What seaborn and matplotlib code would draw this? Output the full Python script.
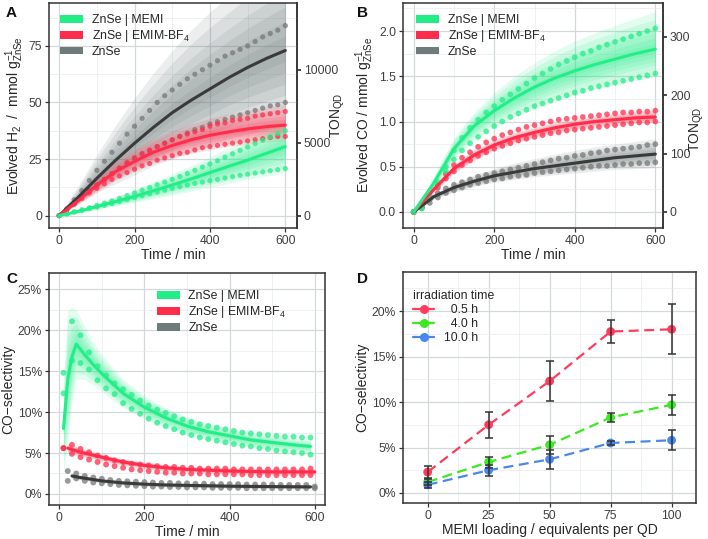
import numpy as np
import pandas as pd
import matplotlib
matplotlib.use("Agg")
import matplotlib.pyplot as plt
import seaborn as sns
from matplotlib.patches import Patch
from matplotlib.lines import Line2D
from matplotlib.ticker import MultipleLocator, FixedLocator, PercentFormatter, FormatStrFormatter

# ---------------- data ----------------
groups = ["ZnSe | MEMI", "ZnSe | EMIM-BF$_4$", "ZnSe"]

# dots every 20 min (panels A, B)
t_dots = list(range(0, 601, 20))
# fitted curve + band every 50 min
t_fit = list(range(0, 601, 50))

# A: evolved H2 / mmol g-1
a_mem_hi = [0, 0.8, 1.7, 2.6, 3.5, 4.5, 5.5, 6.5, 7.6, 8.8, 10, 11.2, 12.4, 13.6, 14.8, 16, 17.3, 18.6, 20, 21.4,
            22.8, 24.2, 25.8, 27.3, 28.8, 30.3, 31.8, 33.3, 34.8, 36.3, 37.5]
a_mem_lo = [0, 0.7, 1.5, 2.2, 3, 3.7, 4.5, 5.3, 6.2, 7, 8, 8.8, 9.6, 10.4, 11.2, 12, 12.8, 13.5, 14.2, 14.8,
            15.4, 16, 16.6, 17.2, 17.8, 18.3, 18.8, 19.3, 19.8, 20.3, 20.8]
a_emim_hi = [0, 2.5, 5.5, 8.5, 11, 13.5, 16, 18.5, 21, 23.5, 25.5, 27.5, 29, 30.5, 32, 33.5, 35, 36, 37, 38,
             39.5, 40.5, 41, 42, 42.5, 43, 44, 44.5, 45, 45.5, 46]
a_emim_lo = [0, 2.5, 5, 7.5, 10, 12, 14, 16, 17.5, 19, 20.5, 22, 23, 24.5, 25.5, 26.5, 27.5, 28, 29, 30,
             30.5, 31, 31.5, 32, 32.5, 33, 33.5, 34, 34.5, 35, 35]
a_znse_hi = [0, 3, 7, 11, 15.5, 20, 24, 28, 32, 36, 39.5, 43, 46.5, 50, 53, 55.5, 58, 60.5, 62.5, 64.5,
             66.5, 68.5, 70.5, 72, 73.5, 75, 77, 79, 80.5, 82, 84]
a_znse_lo = [0, 2.5, 5.5, 8.5, 11, 13.5, 16, 18.5, 21, 23, 25.5, 27, 28.5, 30.5, 32, 33.5, 35, 36.5, 38, 39,
             40.5, 41.5, 42.5, 43.5, 44.5, 45.5, 46.5, 47.5, 48.5, 49, 50]
a_mem_fit = [0, 1.8, 4, 6.2, 8.5, 11, 13.5, 16.2, 19, 21.8, 24.5, 27.5, 30.5]
a_mem_up = [0, 2.5, 5.5, 8.5, 11.5, 15, 18.5, 22, 26, 30, 34, 38, 42]
a_mem_dn = [0, 1.2, 2.8, 4.2, 5.8, 7.5, 9, 10.8, 12.5, 14.2, 16, 17.5, 19]
a_emim_fit = [0, 6.5, 13.5, 19.5, 24, 28, 31, 33.5, 35.5, 37, 38.3, 39.3, 40]
a_emim_up = [0, 8.5, 17, 24, 29.5, 34, 37.5, 40.5, 43, 45, 46.5, 48, 49]
a_emim_dn = [0, 5, 10.5, 15.5, 19.5, 23, 25.5, 27.5, 29, 30.5, 31.5, 32.5, 33]
a_znse_fit = [0, 8, 16.5, 24.5, 32, 39, 45.5, 51, 56, 61, 65.5, 69.5, 73]
a_znse_up = [0, 13, 27, 40, 52, 63, 73, 82, 90, 97, 104, 110, 116]
a_znse_dn = [0, 5, 10, 14, 18, 22, 25, 28, 31, 34, 36, 38, 40]

# B: evolved CO / mmol g-1
b_mem_hi = [0, 0.05, 0.18, 0.33, 0.5, 0.68, 0.82, 0.93, 1.02, 1.1, 1.17, 1.24, 1.3, 1.36, 1.42, 1.48, 1.53, 1.58,
            1.63, 1.67, 1.71, 1.75, 1.78, 1.82, 1.85, 1.88, 1.91, 1.94, 1.97, 2.0, 2.03]
b_mem_lo = [0, 0.04, 0.15, 0.3, 0.45, 0.58, 0.68, 0.76, 0.83, 0.89, 0.95, 1.0, 1.05, 1.09, 1.13, 1.17, 1.2, 1.23,
            1.26, 1.29, 1.32, 1.34, 1.37, 1.39, 1.41, 1.43, 1.45, 1.47, 1.49, 1.51, 1.53]
b_emim_hi = [0, 0.06, 0.17, 0.3, 0.42, 0.52, 0.6, 0.66, 0.72, 0.77, 0.81, 0.85, 0.88, 0.91, 0.94, 0.96, 0.98, 1.0,
             1.02, 1.03, 1.04, 1.05, 1.06, 1.07, 1.08, 1.09, 1.1, 1.1, 1.11, 1.11, 1.12]
b_emim_lo = [0, 0.05, 0.15, 0.27, 0.37, 0.45, 0.52, 0.57, 0.62, 0.66, 0.7, 0.73, 0.76, 0.79, 0.81, 0.83, 0.85, 0.87,
             0.88, 0.9, 0.91, 0.92, 0.93, 0.94, 0.95, 0.96, 0.97, 0.98, 0.99, 0.99, 1.0]
b_znse_hi = [0, 0.06, 0.14, 0.21, 0.26, 0.3, 0.33, 0.36, 0.39, 0.41, 0.43, 0.45, 0.47, 0.49, 0.51, 0.53, 0.55, 0.57,
             0.59, 0.6, 0.62, 0.63, 0.65, 0.66, 0.68, 0.69, 0.7, 0.71, 0.72, 0.74, 0.75]
b_znse_lo = [0, 0.04, 0.1, 0.16, 0.21, 0.24, 0.27, 0.3, 0.32, 0.34, 0.36, 0.37, 0.39, 0.4, 0.41, 0.43, 0.44, 0.45,
             0.46, 0.47, 0.48, 0.49, 0.5, 0.51, 0.51, 0.52, 0.53, 0.53, 0.54, 0.54, 0.55]
b_mem_fit = [0, 0.32, 0.7, 0.95, 1.12, 1.26, 1.38, 1.48, 1.56, 1.63, 1.69, 1.75, 1.8]
b_mem_up = [0, 0.4, 0.82, 1.1, 1.32, 1.5, 1.65, 1.78, 1.89, 1.98, 2.06, 2.14, 2.21]
b_mem_dn = [0, 0.24, 0.58, 0.8, 0.94, 1.05, 1.14, 1.22, 1.29, 1.35, 1.4, 1.45, 1.5]
b_emim_fit = [0, 0.25, 0.48, 0.63, 0.74, 0.82, 0.88, 0.93, 0.97, 1.0, 1.02, 1.04, 1.05]
b_emim_up = [0, 0.29, 0.53, 0.69, 0.8, 0.88, 0.94, 0.99, 1.03, 1.06, 1.09, 1.11, 1.13]
b_emim_dn = [0, 0.21, 0.43, 0.57, 0.68, 0.76, 0.82, 0.87, 0.91, 0.94, 0.96, 0.98, 0.99]
b_znse_fit = [0, 0.17, 0.27, 0.34, 0.4, 0.44, 0.48, 0.51, 0.54, 0.57, 0.6, 0.62, 0.64]
b_znse_up = [0, 0.2, 0.32, 0.41, 0.48, 0.54, 0.59, 0.64, 0.68, 0.72, 0.75, 0.78, 0.81]
b_znse_dn = [0, 0.14, 0.22, 0.28, 0.33, 0.36, 0.39, 0.41, 0.43, 0.45, 0.47, 0.48, 0.49]

# C: CO-selectivity in %
c_t_dots = list(range(10, 591, 20))
c_mem_hi = [14.8, 21.1, 19.4, 17.3, 15.6, 14.5, 13.5, 12.8, 12.1, 11.4, 10.8, 10.3, 9.9, 9.5, 9.1, 8.8, 8.5, 8.3,
            8.1, 7.9, 7.7, 7.5, 7.4, 7.3, 7.2, 7.1, 7.0, 7.0, 6.9, 6.9]
c_mem_lo = [12.3, 16.3, 16.0, 15.2, 13.9, 12.9, 12.2, 11.1, 10.4, 9.8, 9.2, 8.7, 8.3, 7.9, 7.5, 7.2, 6.9, 6.7,
            6.5, 6.3, 6.1, 5.9, 5.8, 5.6, 5.5, 5.3, 5.2, 5.1, 5.0, 4.8]
c_emim_hi = [5.6, 6.0, 5.5, 5.1, 4.7, 4.4, 4.1, 3.9, 3.7, 3.6, 3.5, 3.4, 3.3, 3.3, 3.2, 3.2, 3.1, 3.1, 3.1, 3.1,
             3.0, 3.0, 3.0, 3.0, 3.0, 3.0, 3.0, 3.0, 3.0, 3.1]
c_emim_lo = [5.6, 4.9, 4.5, 4.2, 3.9, 3.6, 3.4, 3.2, 3.0, 2.9, 2.8, 2.7, 2.6, 2.6, 2.5, 2.5, 2.5, 2.4, 2.4, 2.4,
             2.4, 2.4, 2.3, 2.3, 2.3, 2.3, 2.3, 2.3, 2.3, 2.3]
c_t_znse = list(range(20, 601, 20))
c_znse_hi = [2.8, 2.5, 2.2, 2.0, 1.85, 1.7, 1.6, 1.55, 1.5, 1.45, 1.4, 1.35, 1.35, 1.3, 1.3, 1.25, 1.25, 1.2, 1.2,
             1.2, 1.2, 1.15, 1.15, 1.15, 1.15, 1.1, 1.1, 1.1, 1.1, 0.9]
c_znse_lo = [1.6, 1.9, 1.6, 1.4, 1.3, 1.2, 1.1, 1.05, 1.0, 0.95, 0.9, 0.9, 0.85, 0.85, 0.8, 0.8, 0.8, 0.75, 0.75,
             0.75, 0.75, 0.7, 0.7, 0.7, 0.7, 0.7, 0.7, 0.7, 0.7, 0.7]
c_t_mem_fit = [10, 20, 30, 40, 60, 80, 100, 150, 200, 250, 300, 350, 400, 450, 500, 550, 590]
c_mem_fit = [8, 14, 16.8, 18.3, 17, 15.8, 14.7, 12.3, 10.6, 9.3, 8.3, 7.6, 7.1, 6.6, 6.3, 6.0, 5.8]
c_mem_up = [14, 22.5, 22.8, 22.5, 20.5, 18.5, 17, 14, 12, 10.5, 9.4, 8.6, 8.0, 7.5, 7.1, 6.8, 6.6]
c_mem_dn = [2.5, 6, 11.5, 14, 14, 13.3, 12.5, 10.5, 9.2, 8.1, 7.2, 6.6, 6.1, 5.7, 5.4, 5.2, 5.0]
c_t_emim_fit = [20, 50, 100, 150, 200, 250, 300, 350, 400, 450, 500, 550, 600]
c_emim_fit = [5.6, 5.1, 4.5, 3.9, 3.5, 3.2, 3.0, 2.9, 2.8, 2.75, 2.7, 2.7, 2.7]
c_emim_up = [6.2, 5.6, 4.9, 4.3, 3.9, 3.6, 3.4, 3.3, 3.2, 3.1, 3.1, 3.1, 3.1]
c_emim_dn = [5.0, 4.6, 4.0, 3.5, 3.1, 2.8, 2.65, 2.55, 2.45, 2.4, 2.35, 2.3, 2.3]
c_t_znse_fit = [30, 50, 100, 150, 200, 250, 300, 350, 400, 450, 500, 550, 590]
c_znse_fit = [2.2, 2.0, 1.6, 1.35, 1.2, 1.1, 1.05, 1.0, 0.95, 0.92, 0.9, 0.88, 0.87]
c_znse_up = [2.6, 2.3, 1.85, 1.6, 1.45, 1.35, 1.3, 1.25, 1.2, 1.18, 1.15, 1.12, 1.1]
c_znse_dn = [1.8, 1.7, 1.35, 1.1, 0.95, 0.85, 0.8, 0.75, 0.72, 0.7, 0.68, 0.65, 0.62]

# D: CO-selectivity vs MEMI loading
d_loading = [0, 25, 50, 75, 100]
d_times = ["0.5 h", "4.0 h", "10.0 h"]
d_sel_05 = [2.3, 7.5, 12.3, 17.75, 18.0]
d_err_05 = [0.65, 1.4, 2.2, 1.25, 2.75]
d_sel_40 = [1.2, 3.4, 5.3, 8.3, 9.7]
d_err_40 = [0.3, 0.6, 1.0, 0.45, 1.1]
d_sel_100 = [0.9, 2.5, 3.7, 5.5, 5.8]
d_err_100 = [0.3, 0.6, 1.05, 0.2, 1.1]

TON_PER_MMOL = 155

# ---------------- style ----------------
sns.set_theme(style="white")
plt.rcParams["font.family"] = ["Liberation Sans", "DejaVu Sans"]
plt.rcParams["mathtext.fontset"] = "custom"
plt.rcParams["mathtext.rm"] = "Liberation Sans"
plt.rcParams["mathtext.it"] = "Liberation Sans:italic"

GREEN = "#22EE88"
RED = "#FF2D4B"
GREY_BAND = "#6E7B7B"
GREY_DOT = "#777777"
GREY_LINE = "#3A3A3A"
EDGE = "#333333"
TXT = "#3F3F3F"
TICK_FS = 8.7
LAB_FS = 10
LEG_FS = 8.8
cols = [GREEN, RED, GREY_BAND]

fig = plt.figure(figsize=(7.08, 5.39), dpi=100)
W, H = 708, 539


def box(l, t, r, b):
    return fig.add_axes([l / W, 1 - b / H, (r - l) / W, (b - t) / H])


def style(ax, xmaj, xmin, ymaj, ymin):
    ax.xaxis.set_major_locator(MultipleLocator(xmaj))
    ax.xaxis.set_minor_locator(MultipleLocator(xmin))
    ax.yaxis.set_major_locator(MultipleLocator(ymaj))
    ax.yaxis.set_minor_locator(MultipleLocator(ymin))
    ax.grid(which="major", color="#D3D9DB", lw=0.9)
    ax.grid(which="minor", color="#E7EBEC", lw=0.5)
    ax.set_axisbelow(True)
    for s in ax.spines.values():
        s.set_color(EDGE)
        s.set_linewidth(1.1)
        s.set_visible(True)
    ax.tick_params(which="major", direction="out", length=3, width=0.9, color=EDGE,
                   labelcolor=TXT, labelsize=TICK_FS, left=True, bottom=True, pad=2)
    ax.tick_params(which="minor", length=0)


def band(ax, t, fit, up, dn, color, alpha=0.13):
    fit = np.array(fit)
    up = np.array(up)
    dn = np.array(dn)
    for f in [1.0, 0.8, 0.6, 0.45, 0.3, 0.15]:
        ax.fill_between(t, fit - f * (fit - dn), fit + f * (up - fit), color=color, alpha=alpha, lw=0)


def dots(ax, t, y, color, s=14):
    sns.scatterplot(x=t, y=y, ax=ax, color=color, s=s, alpha=0.75, edgecolor="none", linewidth=0, legend=False)


def fitline(ax, t, y, color):
    sns.lineplot(x=t, y=y, ax=ax, color=color, lw=2.2, legend=False, estimator=None)


def legend_patches(ax, anchor):
    hs = [Patch(facecolor=c, edgecolor="none") for c in cols]
    ax.legend(hs, groups, loc="upper left", bbox_to_anchor=anchor, frameon=False, fontsize=LEG_FS,
              handlelength=1.9, handleheight=0.6, labelspacing=0.15, handletextpad=0.7,
              borderaxespad=0, borderpad=0)


def ton_axis(ax, ticks, pad, label_y):
    sec = ax.secondary_yaxis("right", functions=(lambda y: y * TON_PER_MMOL, lambda t: t / TON_PER_MMOL))
    sec.yaxis.set_major_locator(FixedLocator(ticks))
    sec.tick_params(direction="out", length=3, color=EDGE, labelcolor=TXT, labelsize=TICK_FS, pad=2)
    sec.spines["right"].set_color(EDGE)
    sec.spines["right"].set_linewidth(1.1)
    sec.set_ylabel("TON$_{\\mathrm{QD}}$", fontsize=LAB_FS, rotation=90, labelpad=pad)
    sec.yaxis.label.set_y(label_y)
    return sec


# ---------------- panel A ----------------
axA = box(49, 3, 297, 228)
style(axA, 200, 100, 25, 12.5)
for fit, up, dn, c in [(a_znse_fit, a_znse_up, a_znse_dn, GREY_BAND), (a_emim_fit, a_emim_up, a_emim_dn, RED),
                       (a_mem_fit, a_mem_up, a_mem_dn, GREEN)]:
    band(axA, t_fit, fit, up, dn, c)
for hi, lo, c in [(a_znse_hi, a_znse_lo, GREY_DOT), (a_emim_hi, a_emim_lo, RED), (a_mem_hi, a_mem_lo, GREEN)]:
    dots(axA, t_dots, hi, c)
    dots(axA, t_dots, lo, c)
for fit, c in [(a_znse_fit, GREY_LINE), (a_emim_fit, RED), (a_mem_fit, GREEN)]:
    fitline(axA, t_fit, fit, c)
axA.set_xlim(-27, 631)
axA.set_ylim(-5.5, 94)
axA.set_xlabel("Time / min", fontsize=LAB_FS, labelpad=1)
axA.set_ylabel("Evolved H$_2$  /  mmol g$^{-1}_{\\mathrm{ZnSe}}$", fontsize=LAB_FS, labelpad=2)
ton_axis(axA, [0, 5000, 10000], -6.5, 0.5)
legend_patches(axA, (0.045, 0.95))

# ---------------- panel B ----------------
axB = box(403, 3, 663, 228)
style(axB, 200, 100, 0.5, 0.25)
for fit, up, dn, c in [(b_znse_fit, b_znse_up, b_znse_dn, GREY_BAND), (b_emim_fit, b_emim_up, b_emim_dn, RED),
                       (b_mem_fit, b_mem_up, b_mem_dn, GREEN)]:
    band(axB, t_fit, fit, up, dn, c)
for hi, lo, c in [(b_znse_hi, b_znse_lo, GREY_DOT), (b_emim_hi, b_emim_lo, RED), (b_mem_hi, b_mem_lo, GREEN)]:
    dots(axB, t_dots, hi, c, s=17)
    dots(axB, t_dots, lo, c, s=17)
for fit, c in [(b_znse_fit, GREY_LINE), (b_emim_fit, RED), (b_mem_fit, GREEN)]:
    fitline(axB, t_fit, fit, c)
axB.set_xlim(-26.5, 619)
axB.set_ylim(-0.177, 2.31)
axB.yaxis.set_major_formatter(FormatStrFormatter("%.1f"))
axB.set_xlabel("Time / min", fontsize=LAB_FS, labelpad=1)
axB.set_ylabel("Evolved CO / mmol g$^{-1}_{\\mathrm{ZnSe}}$", fontsize=LAB_FS, labelpad=2)
ton_axis(axB, [0, 100, 200, 300], -2, 0.44)
legend_patches(axB, (0.05, 0.95))

# ---------------- panel C ----------------
axC = box(49, 273, 325, 505)
style(axC, 200, 100, 5, 2.5)
band(axC, c_t_znse_fit, c_znse_fit, c_znse_up, c_znse_dn, GREY_BAND)
band(axC, c_t_emim_fit, c_emim_fit, c_emim_up, c_emim_dn, RED)
band(axC, c_t_mem_fit, c_mem_fit, c_mem_up, c_mem_dn, GREEN)
dots(axC, c_t_znse, c_znse_hi, GREY_DOT, s=18)
dots(axC, c_t_znse, c_znse_lo, GREY_DOT, s=18)
dots(axC, c_t_dots, c_emim_hi, RED, s=18)
dots(axC, c_t_dots, c_emim_lo, RED, s=18)
dots(axC, c_t_dots, c_mem_hi, GREEN, s=18)
dots(axC, c_t_dots, c_mem_lo, GREEN, s=18)
fitline(axC, c_t_znse_fit, c_znse_fit, GREY_LINE)
fitline(axC, c_t_emim_fit, c_emim_fit, RED)
fitline(axC, c_t_mem_fit, c_mem_fit, GREEN)
axC.set_xlim(-24, 624)
axC.set_ylim(-1.35, 27)
axC.yaxis.set_major_formatter(PercentFormatter(decimals=0))
axC.set_xlabel("Time / min", fontsize=LAB_FS, labelpad=1)
axC.set_ylabel("CO\u2212selectivity", fontsize=LAB_FS, labelpad=2)
legend_patches(axC, (0.39, 0.925))

# ---------------- panel D ----------------
axD = box(403, 272, 696, 503)
style(axD, 25, 12.5, 5, 2.5)
d_cols = ["#FF3B5C", "#3AEA1E", "#4A86F0"]
d_df = pd.DataFrame({
    "loading": d_loading * 3,
    "sel": d_sel_05 + d_sel_40 + d_sel_100,
    "err": d_err_05 + d_err_40 + d_err_100,
    "time": [d_times[0]] * 5 + [d_times[1]] * 5 + [d_times[2]] * 5,
})
sns.lineplot(data=d_df, x="loading", y="sel", hue="time", hue_order=d_times, palette=d_cols, ax=axD,
             lw=1.6, legend=False, estimator=None)
for ln in axD.lines:
    ln.set_dashes([4.5, 2.5])
sns.scatterplot(data=d_df, x="loading", y="sel", hue="time", hue_order=d_times, palette=d_cols, ax=axD,
                s=40, edgecolor="none", linewidth=0, legend=False, zorder=3)
axD.errorbar(d_df["loading"], d_df["sel"], yerr=d_df["err"], fmt="none", ecolor=EDGE, elinewidth=1.1,
             capsize=3, capthick=1.1, zorder=4)
axD.set_xlim(-10.1, 110)
axD.set_ylim(-1.1, 24.3)
axD.yaxis.set_major_formatter(PercentFormatter(decimals=0))
axD.set_xlabel("MEMI loading / equivalents per QD", fontsize=LAB_FS, labelpad=1)
axD.set_ylabel("CO\u2212selectivity", fontsize=LAB_FS, labelpad=2)
hD = [Line2D([0], [0], color=c, lw=1.6, marker="o", markersize=6.5, markeredgewidth=0) for c in d_cols]
axD.legend(hD, ["  " + d_times[0], "  " + d_times[1], d_times[2]], title="irradiation time", loc="upper left",
           bbox_to_anchor=(0.035, 0.92), frameon=False, fontsize=LEG_FS, title_fontsize=LEG_FS,
           handlelength=1.7, labelspacing=0.15, handletextpad=0.8, borderaxespad=0, borderpad=0,
           alignment="left")

# ---------------- panel letters ----------------
for x, y, s in [(6, 17, "A"), (357, 17, "B"), (6, 283, "C"), (357, 283, "D")]:
    fig.text(x / W, 1 - y / H, s, fontsize=11, fontweight="bold", color="#111111", va="baseline")

fig.savefig("out.png", dpi=100)
